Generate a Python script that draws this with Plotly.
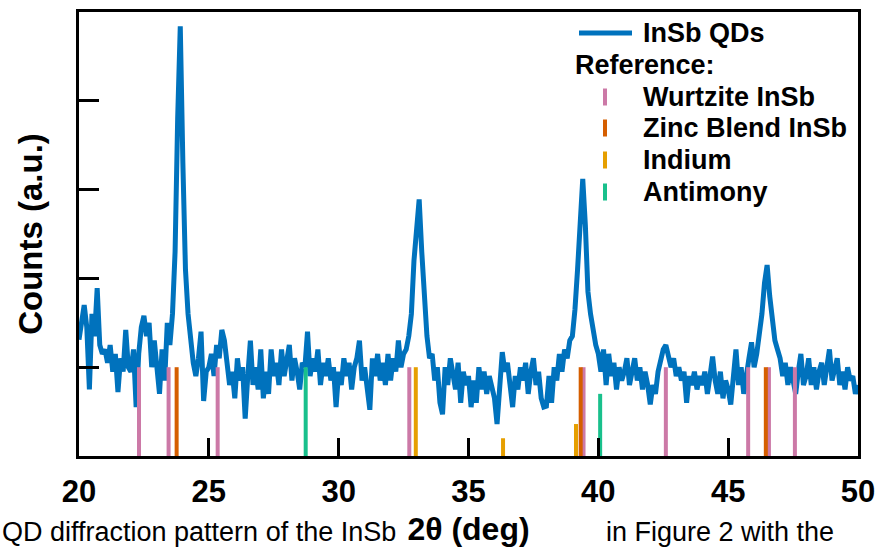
import plotly.graph_objects as go

# --- XRD pattern of InSb quantum dots, 2theta = 20..50 deg in 0.1 deg steps ---
two_theta_start = 20.0
two_theta_step = 0.1
counts = [
    # 20.0 - 20.9
    1.31, 1.55, 1.70, 1.45, 0.75, 1.60, 1.35, 1.89, 1.25, 1.15,
    # 21.0 - 21.9
    1.20, 1.05, 1.25, 0.95, 1.15, 0.72, 1.10, 0.95, 1.42, 1.00,
    # 22.0 - 22.9
    0.95, 1.20, 0.55, 1.15, 1.45, 1.58, 1.35, 1.50, 1.00, 1.30,
    # 23.0 - 23.9
    1.05, 0.70, 1.20, 0.85, 1.50, 1.25, 1.60, 2.30, 3.80, 4.84,
    # 24.0 - 24.9
    3.30, 2.10, 1.60, 1.30, 1.05, 0.90, 1.10, 1.40, 0.62, 0.95,
    # 25.0 - 25.9
    1.00, 1.15, 0.90, 1.25, 1.10, 1.42, 1.30, 1.05, 0.80, 0.95,
    # 26.0 - 26.9
    0.65, 1.10, 0.85, 1.00, 0.42, 0.90, 1.30, 0.80, 1.00, 0.75,
    # 27.0 - 27.9
    1.20, 0.65, 0.95, 0.70, 1.20, 0.90, 1.05, 0.80, 1.20, 0.90,
    # 28.0 - 28.9
    1.05, 1.25, 0.85, 1.10, 0.95, 0.75, 1.05, 1.00, 1.40, 0.90,
    # 29.0 - 29.9
    1.10, 0.95, 1.20, 0.80, 1.05, 0.90, 1.10, 0.85, 1.00, 0.55,
    # 30.0 - 30.9
    0.95, 0.80, 1.10, 0.90, 1.05, 0.75, 1.00, 1.10, 1.30, 0.85,
    # 31.0 - 31.9
    1.00, 0.75, 0.52, 1.10, 0.90, 1.15, 0.85, 1.05, 0.80, 1.15,
    # 32.0 - 32.9
    0.85, 1.10, 0.95, 1.30, 1.00, 1.15, 1.20, 1.35, 1.60, 2.20,
    # 33.0 - 33.9
    2.60, 2.89, 2.30, 1.80, 1.35, 1.10, 1.15, 0.85, 1.00, 0.60,
    # 34.0 - 34.9
    0.47, 1.00, 0.80, 1.10, 0.90, 0.75, 1.05, 0.60, 0.95, 0.80,
    # 35.0 - 35.9
    0.90, 0.55, 0.85, 0.60, 1.00, 0.75, 0.95, 0.70, 0.90, 0.80,
    # 36.0 - 36.9
    0.65, 0.36, 0.85, 1.17, 0.95, 1.05, 0.80, 0.55, 0.90, 0.75,
    # 37.0 - 37.9
    1.00, 0.85, 1.05, 0.70, 0.95, 1.10, 0.80, 0.95, 0.65, 0.55,
    # 38.0 - 38.9
    0.56, 0.90, 0.60, 1.00, 0.85, 1.15, 0.95, 1.20, 1.10, 1.30,
    # 39.0 - 39.9
    1.35, 1.65, 2.10, 2.70, 3.12, 2.60, 1.85, 1.60, 1.40, 1.25,
    # 40.0 - 40.9
    1.15, 0.95, 1.20, 0.80, 1.15, 0.90, 1.05, 0.75, 1.00, 0.85,
    # 41.0 - 41.9
    0.95, 1.10, 0.80, 0.95, 1.10, 0.85, 1.00, 0.75, 0.95, 0.80,
    # 42.0 - 42.9
    0.58, 0.80, 0.70, 0.95, 1.05, 1.20, 1.25, 1.15, 1.00, 1.10,
    # 43.0 - 43.9
    0.90, 1.00, 0.85, 0.95, 0.60, 0.90, 0.80, 0.95, 0.75, 0.90,
    # 44.0 - 44.9
    0.80, 0.95, 0.70, 0.90, 1.12, 0.85, 0.70, 0.95, 0.65, 0.85,
    # 45.0 - 45.9
    0.75, 0.58, 0.90, 1.20, 0.80, 1.00, 0.70, 0.95, 1.10, 1.28,
    # 46.0 - 46.9
    1.00, 1.15, 1.35, 1.60, 1.95, 2.15, 1.80, 1.50, 1.30, 1.20,
    # 47.0 - 47.9
    1.10, 0.90, 1.05, 0.80, 1.00, 0.85, 0.70, 0.95, 1.15, 0.80,
    # 48.0 - 48.9
    0.90, 1.10, 0.80, 1.00, 0.75, 0.95, 1.05, 0.80, 1.00, 1.20,
    # 49.0 - 50.0
    0.85, 1.00, 1.10, 0.80, 0.95, 0.75, 1.00, 0.85, 0.90, 0.70, 0.80,
]
two_theta = [round(two_theta_start + i * two_theta_step, 2) for i in range(len(counts))]

# --- reference stick patterns (peak position, relative height) ---
wurtzite_pos = [22.31, 23.45, 25.34, 32.72, 39.43, 42.60, 45.77, 46.57, 47.57]
wurtzite_h = [1.0, 1.0, 1.0, 1.0, 1.0, 1.0, 1.0, 1.0, 1.0]
zincblend_pos = [23.76, 39.32, 46.45]
zincblend_h = [1.0, 1.0, 1.0]
indium_pos = [32.97, 36.33, 39.14]
indium_h = [1.0, 0.20, 0.36]
antimony_pos = [28.73, 40.07]
antimony_h = [1.0, 0.70]

series_names = ["InSb QDs", "Wurtzite InSb", "Zinc Blend InSb", "Indium", "Antimony"]
x_ticks = [20, 25, 30, 35, 40, 45, 50]
y_ticks = [1, 2, 3, 4]
caption_left = "QD diffraction pattern of the InSb"
caption_right = "in Figure 2 with the"

BLUE = "#0072BD"
PINK = "#CC79A7"
VERMILION = "#D55E00"
ORANGE = "#E69F00"
GREEN = "#19C08C"
FONT = "Liberation Sans, Arial, sans-serif"


def sticks(pos, h):
    xs, ys = [], []
    for p, v in zip(pos, h):
        xs += [p, p, None]
        ys += [0, v, None]
    return xs, ys


fig = go.Figure()
fig.add_trace(go.Scatter(x=two_theta, y=counts, mode="lines", name=series_names[0],
                         line=dict(color=BLUE, width=5), showlegend=False))

for (pos, h), name, col in zip(
        [(wurtzite_pos, wurtzite_h), (zincblend_pos, zincblend_h),
         (indium_pos, indium_h), (antimony_pos, antimony_h)],
        series_names[1:], [PINK, VERMILION, ORANGE, GREEN]):
    xs, ys = sticks(pos, h)
    fig.add_trace(go.Scatter(x=xs, y=ys, mode="lines", name=name,
                             line=dict(color=col, width=4), showlegend=False))

# --- hand-laid legend box in the upper right of the axes ---
L, T, W, H = 79, 12, 779, 444          # plot area in page pixels


def px(xp):
    return (xp - L) / W


def py(yp):
    return (T + H - yp) / H


rows = [33, 65, 97, 128, 160, 192]
leg_font = dict(family=FONT, size=27, color="black", weight="bold")
shapes = [dict(type="line", xref="paper", yref="paper",
               x0=px(579), x1=px(632), y0=py(rows[0]), y1=py(rows[0]),
               line=dict(color=BLUE, width=5))]
annotations = [
    dict(text=series_names[0], xref="paper", yref="paper", x=px(641), y=py(rows[0]),
         xanchor="left", yanchor="middle", showarrow=False, font=leg_font),
    dict(text="Reference:", xref="paper", yref="paper", x=px(573), y=py(rows[1]),
         xanchor="left", yanchor="middle", showarrow=False, font=leg_font),
]
for r, name, col in zip(rows[2:], series_names[1:], [PINK, VERMILION, ORANGE, GREEN]):
    shapes.append(dict(type="line", xref="paper", yref="paper",
                       x0=px(605), x1=px(605), y0=py(r + 8.5), y1=py(r - 8.5),
                       line=dict(color=col, width=4)))
    annotations.append(dict(text=name, xref="paper", yref="paper", x=px(641), y=py(r),
                            xanchor="left", yanchor="middle", showarrow=False, font=leg_font))

# caption line of the surrounding document along the page foot
cap_font = dict(family=FONT, size=27, color="black")
annotations.append(dict(text=caption_left, xref="paper", yref="paper", x=px(0), y=py(549),
                        xanchor="left", yanchor="bottom", showarrow=False, font=cap_font))
annotations.append(dict(text=caption_right, xref="paper", yref="paper", x=px(604), y=py(549),
                        xanchor="left", yanchor="bottom", showarrow=False, font=cap_font))

fig.update_layout(
    width=880, height=550,
    margin=dict(l=L, r=880 - L - W, t=T, b=550 - T - H),
    paper_bgcolor="white", plot_bgcolor="white",
    showlegend=False,
    shapes=shapes, annotations=annotations,
    xaxis=dict(range=[20, 50], tickvals=x_ticks, ticktext=[str(v) for v in x_ticks],
               ticks="inside", ticklen=18, tickwidth=3, tickcolor="black",
               showline=True, linecolor="black", linewidth=3, mirror=True,
               showgrid=False, zeroline=False, automargin=False,
               ticklabelstandoff=6,
               tickfont=dict(family=FONT, size=31, color="black", weight="bold"),
               title=dict(text="2θ (deg)", standoff=10,
                          font=dict(family=FONT, size=32, color="black", weight="bold"))),
    yaxis=dict(range=[0, 5], tickvals=y_ticks, showticklabels=False,
               ticks="inside", ticklen=20, tickwidth=3, tickcolor="black",
               showline=True, linecolor="black", linewidth=3, mirror=True,
               showgrid=False, zeroline=False, automargin=False,
               title=dict(text="Counts (a.u.)", standoff=24,
                          font=dict(family=FONT, size=33, color="black", weight="bold"))),
)

fig.write_html("out.html")
